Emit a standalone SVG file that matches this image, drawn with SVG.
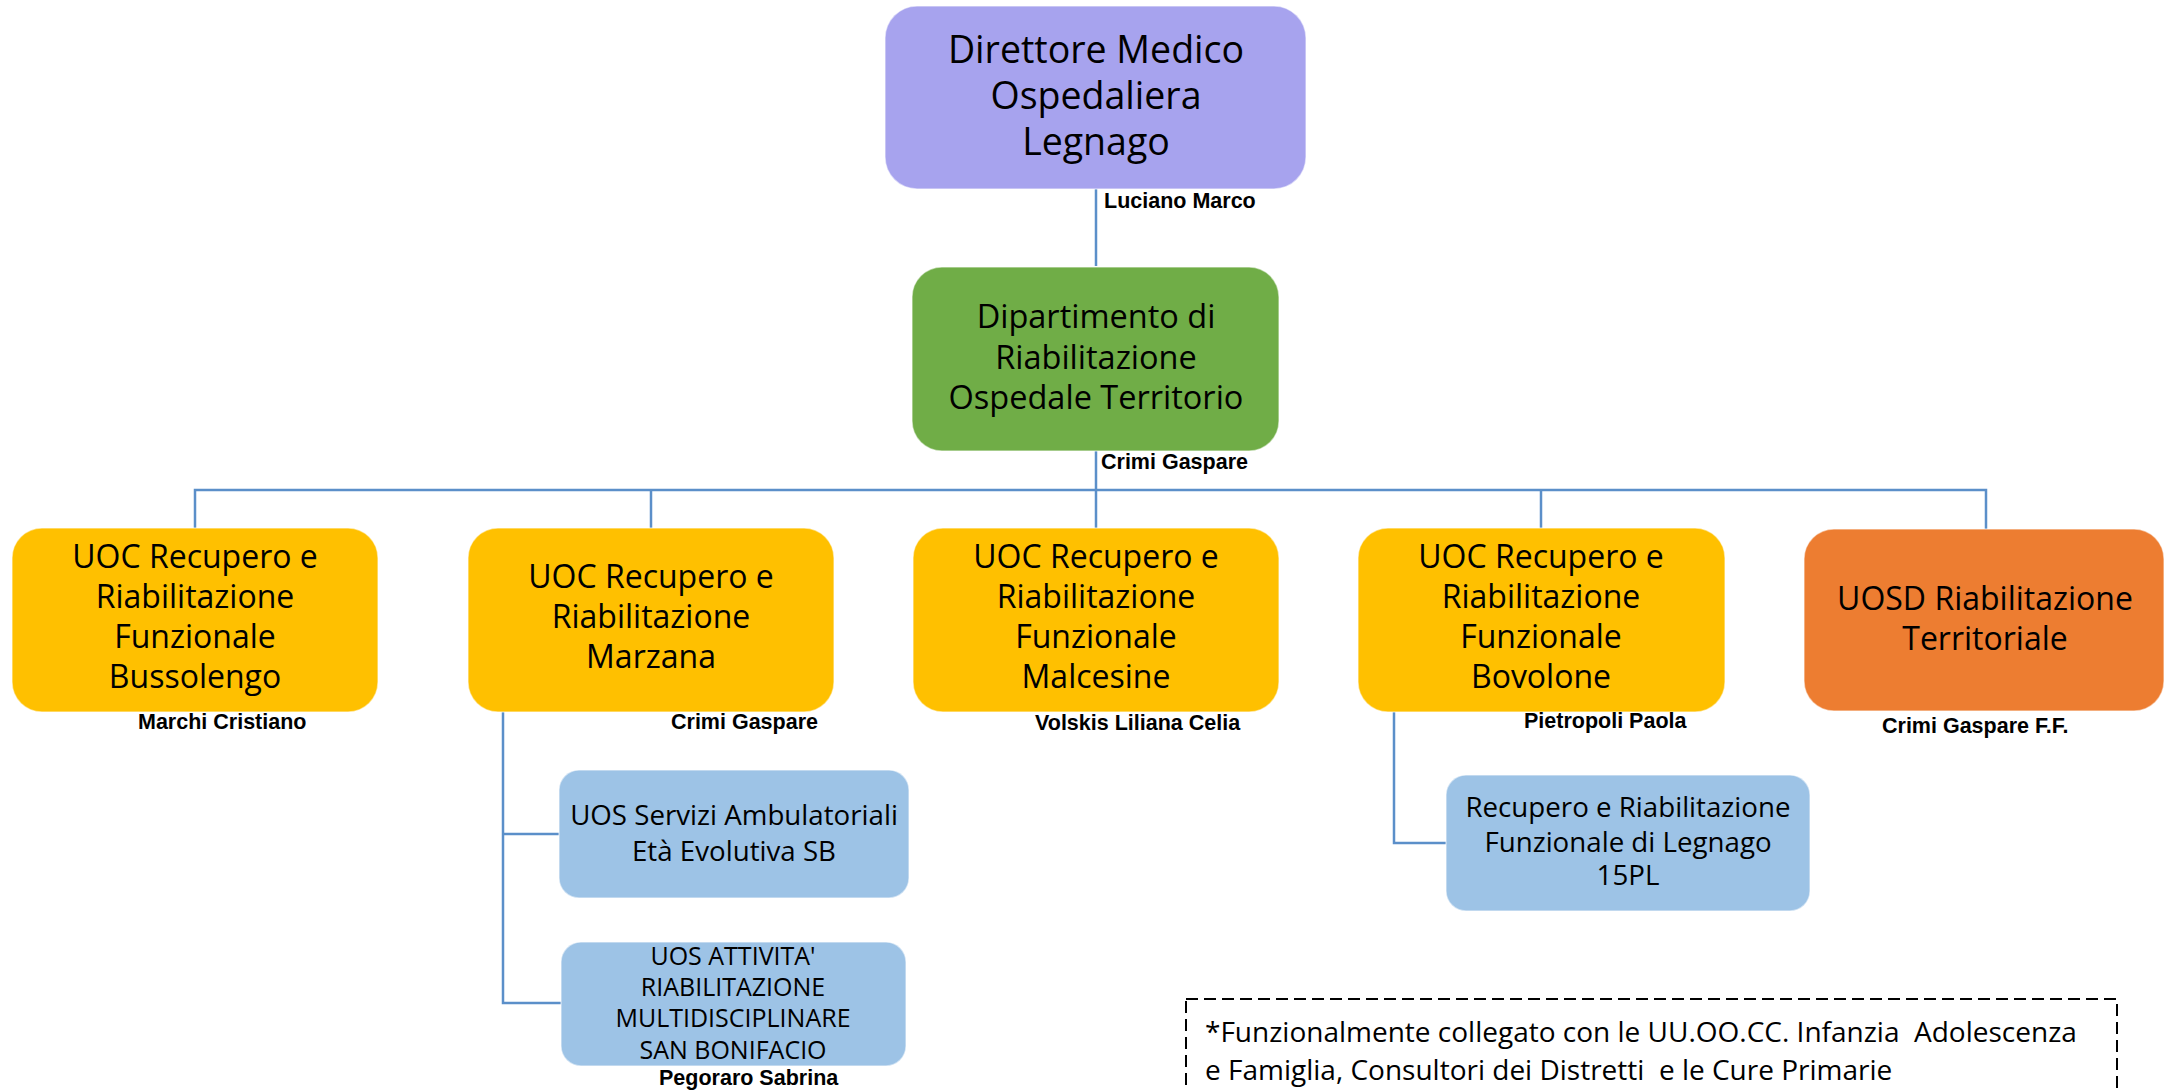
<svg xmlns="http://www.w3.org/2000/svg" width="2165" height="1090" viewBox="0 0 2165 1090">
<style>
.t{font-family:"Open Sans","Noto Sans",sans-serif;fill:#000;text-anchor:middle}
.l{font-family:"Liberation Sans",Arial,sans-serif;font-weight:bold;font-size:21.5px;fill:#000}
.c{fill:none;stroke:#5B8FC9;stroke-width:2.5}
.bx{stroke:#ffffff;stroke-opacity:0.5;stroke-width:1.5}
.n{font-family:"Open Sans","Noto Sans",sans-serif;font-size:28px;fill:#000;white-space:pre}
</style>
<rect width="2165" height="1090" fill="#ffffff"/>
<g id="connectors">
<path class="c" d="M1096 189V266"/>
<path class="c" d="M1096 450V528"/>
<path class="c" d="M195 528V490H1986V529"/>
<path class="c" d="M651 490V528"/>
<path class="c" d="M1541 490V528"/>
<path class="c" d="M503 712V1003H561"/>
<path class="c" d="M503 834H559"/>
<path class="c" d="M1394 712V843H1446"/>
</g>
<g id="direttore">
<rect class="bx" x="885" y="6" width="421" height="183" rx="32" fill="#A7A3EE"/>
<text class="t" font-size="37.5" x="1096" y="63">Direttore Medico</text>
<text class="t" font-size="37.5" x="1096" y="109">Ospedaliera</text>
<text class="t" font-size="37.5" x="1096" y="155">Legnago</text>
<text class="l" x="1104" y="208" text-anchor="start">Luciano Marco</text>
</g>
<g id="dipartimento">
<rect class="bx" x="912" y="267" width="367" height="184" rx="30" fill="#70AD47"/>
<text class="t" font-size="32.5" x="1096" y="328">Dipartimento di</text>
<text class="t" font-size="32.5" x="1096" y="369">Riabilitazione</text>
<text class="t" font-size="32.5" x="1096" y="409">Ospedale Territorio</text>
<text class="l" x="1101" y="469">Crimi Gaspare</text>
</g>
<g id="bussolengo">
<rect class="bx" x="12" y="528" width="366" height="184" rx="30" fill="#FFC000"/>
<text class="t" font-size="32" x="195" y="568">UOC Recupero e</text>
<text class="t" font-size="32" x="195" y="608">Riabilitazione</text>
<text class="t" font-size="32" x="195" y="648">Funzionale</text>
<text class="t" font-size="32" x="195" y="688">Bussolengo</text>
<text class="l" x="138" y="729">Marchi Cristiano</text>
</g>
<g id="marzana">
<rect class="bx" x="468" y="528" width="366" height="184" rx="30" fill="#FFC000"/>
<text class="t" font-size="32" x="651" y="588">UOC Recupero e</text>
<text class="t" font-size="32" x="651" y="628">Riabilitazione</text>
<text class="t" font-size="32" x="651" y="668">Marzana</text>
<text class="l" x="671" y="729">Crimi Gaspare</text>
</g>
<g id="malcesine">
<rect class="bx" x="913" y="528" width="366" height="184" rx="30" fill="#FFC000"/>
<text class="t" font-size="32" x="1096" y="568">UOC Recupero e</text>
<text class="t" font-size="32" x="1096" y="608">Riabilitazione</text>
<text class="t" font-size="32" x="1096" y="648">Funzionale</text>
<text class="t" font-size="32" x="1096" y="688">Malcesine</text>
<text class="l" x="1035" y="730">Volskis Liliana Celia</text>
</g>
<g id="bovolone">
<rect class="bx" x="1358" y="528" width="367" height="184" rx="30" fill="#FFC000"/>
<text class="t" font-size="32" x="1541" y="568">UOC Recupero e</text>
<text class="t" font-size="32" x="1541" y="608">Riabilitazione</text>
<text class="t" font-size="32" x="1541" y="648">Funzionale</text>
<text class="t" font-size="32" x="1541" y="688">Bovolone</text>
<text class="l" x="1524" y="728">Pietropoli Paola</text>
</g>
<g id="uosd">
<rect class="bx" x="1804" y="529" width="360" height="182" rx="30" fill="#ED7D31"/>
<text class="t" font-size="32" x="1985" y="610">UOSD Riabilitazione</text>
<text class="t" font-size="32" x="1985" y="650">Territoriale</text>
<text class="l" x="1882" y="733">Crimi Gaspare F.F.</text>
</g>
<g id="uos-servizi">
<rect class="bx" x="559" y="770" width="350" height="128" rx="20" fill="#9DC3E6"/>
<text class="t" font-size="27.7" x="734" y="825">UOS Servizi Ambulatoriali</text>
<text class="t" font-size="27.7" x="734" y="861">Età Evolutiva SB</text>
</g>
<g id="uos-attivita">
<rect class="bx" x="561" y="942" width="345" height="124" rx="20" fill="#9DC3E6"/>
<text class="t" font-size="25" x="733" y="965">UOS ATTIVITA'</text>
<text class="t" font-size="25" x="733" y="996">RIABILITAZIONE</text>
<text class="t" font-size="25" x="733" y="1027">MULTIDISCIPLINARE</text>
<text class="t" font-size="25" x="733" y="1059">SAN BONIFACIO</text>
<text class="l" x="659" y="1085">Pegoraro Sabrina</text>
</g>
<g id="legnago">
<rect class="bx" x="1446" y="775" width="364" height="136" rx="20" fill="#9DC3E6"/>
<text class="t" font-size="27.7" x="1628" y="817">Recupero e Riabilitazione</text>
<text class="t" font-size="27.7" x="1628" y="852">Funzionale di Legnago</text>
<text class="t" font-size="27.7" x="1628" y="885">15PL</text>
</g>
<g id="nota">
<rect x="1186" y="999" width="931" height="120" fill="none" stroke="#000" stroke-width="2" stroke-dasharray="12 6"/>
<text class="n" x="1205" y="1042" xml:space="preserve">*Funzionalmente collegato con le UU.OO.CC. Infanzia  Adolescenza</text>
<text class="n" x="1205" y="1080" xml:space="preserve">e Famiglia, Consultori dei Distretti  e le Cure Primarie</text>
</g>
</svg>
